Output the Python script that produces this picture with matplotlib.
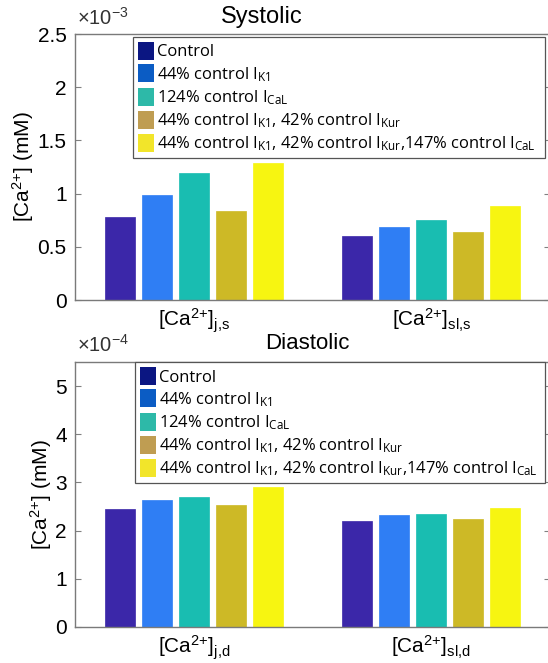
import matplotlib.pyplot as plt
import numpy as np
from matplotlib.patches import Patch

# values
groups_sys = [r'[Ca$^{2{+}}$]$_{j{,}s}$', r'[Ca$^{2{+}}$]$_{sl{,}s}$']
groups_dia = [r'[Ca$^{2{+}}$]$_{j{,}d}$', r'[Ca$^{2{+}}$]$_{sl{,}d}$']
labels = ['Control',
          r'44% control I$_{K1}$',
          r'124% control I$_{CaL}$',
          r'44% control I$_{K1}$, 42% control I$_{Kur}$',
          r'44% control I$_{K1}$, 42% control I$_{Kur}$,147% control I$_{CaL}$']
systolic = [[0.78, 0.60],
            [0.99, 0.69],
            [1.19, 0.75],
            [0.84, 0.64],
            [1.29, 0.88]]   # x1e-3 mM
diastolic = [[2.44, 2.20],
             [2.64, 2.32],
             [2.69, 2.35],
             [2.54, 2.25],
             [2.91, 2.46]]  # x1e-4 mM
bar_colors = ['#3b27a9', '#2f7ef4', '#19bdb1', '#cdb926', '#f7f511']
leg_colors = ['#0b1682', '#0b5cc4', '#2db9a8', '#bf9d52', '#f2e52a']

plt.rcParams['font.family'] = ['Liberation Sans', 'DejaVu Sans']
plt.rcParams['mathtext.default'] = 'regular'

fig = plt.figure(figsize=[5.48, 6.63], dpi=100)
ax1 = fig.add_axes([0.1369, 0.5475, 0.8668, 0.4012])
ax2 = fig.add_axes([0.1369, 0.0543, 0.8668, 0.3997])

def draw(ax, data, groups, ylim, yticks, leg_box):
    x = np.arange(1, len(groups) + 1)
    w = 0.126
    step = 0.1555
    for i in range(len(data)):
        ax.bar(x + (i - 2) * step, data[i], w, color=bar_colors[i],
               edgecolor=bar_colors[i], linewidth=0.5)
    ax.set_xlim(0.5, 2.5)
    ax.set_ylim(*ylim)
    ax.set_yticks(yticks)
    ax.set_yticklabels(['%g' % t for t in yticks])
    ax.set_xticks(x)
    ax.set_xticklabels(groups, fontsize=15)
    ax.tick_params(axis='x', length=0, pad=5)
    ax.tick_params(axis='y', direction='in', right=True, length=4,
                   labelsize=15, color='#808080', pad=6)
    for s in ax.spines.values():
        s.set_color('#7a7a7a')
        s.set_linewidth(1.0)
    ax.set_ylabel(r'[Ca$^{2{+}}$] (mM)', fontsize=15, labelpad=1)
    handles = [Patch(facecolor=c, edgecolor='none') for c in leg_colors]
    leg = ax.legend(handles, labels, loc='upper left', bbox_to_anchor=leg_box,
                    mode='expand', borderaxespad=0,
                    prop={'family': ['Open Sans', 'DejaVu Sans'], 'size': 11.9},
                    handlelength=0.95, handleheight=1.3, handletextpad=0.2,
                    labelspacing=0.24, borderpad=0.3, fancybox=False,
                    framealpha=1, edgecolor='#555555')
    leg.get_frame().set_linewidth(0.9)

draw(ax1, systolic, groups_sys, (0, 2.5), [0, 0.5, 1, 1.5, 2, 2.5],
     (0.122, 0.538, 0.867, 0.451))
draw(ax2, diastolic, groups_dia, (0, 5.5), [0, 1, 2, 3, 4, 5],
     (0.126, 0.543, 0.863, 0.457))

fig.text(262 / 548, 1 - 17 / 663, 'Systolic', ha='center', va='center', fontsize=17)
fig.text(307 / 548, 1 - 343 / 663, 'Diastolic', ha='center', va='center', fontsize=16)
fig.text(77 / 548, 1 - 18 / 663, r'$\times$10$^{-3}$', ha='left', va='center',
         fontsize=14.5, color='#333333')
fig.text(77 / 548, 1 - 345 / 663, r'$\times$10$^{-4}$', ha='left', va='center',
         fontsize=14.5, color='#333333')

plt.savefig('out.png', dpi=100)
plt.close()
